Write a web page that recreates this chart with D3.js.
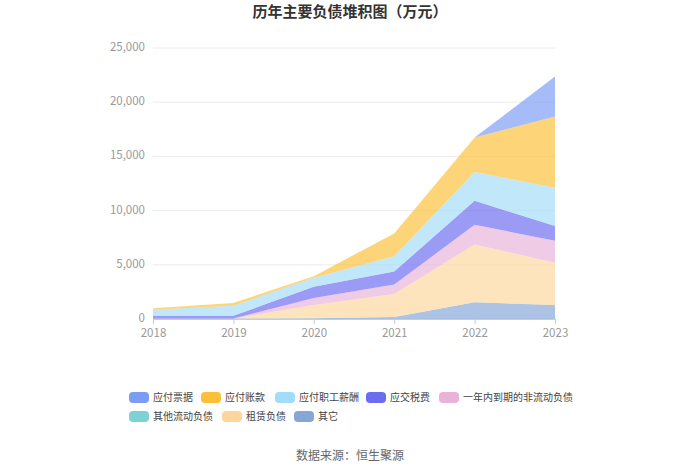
<!DOCTYPE html>
<html><head><meta charset="utf-8">
<script src="https://cdn.jsdelivr.net/npm/d3@7/dist/d3.min.js"></script>
<style>body{margin:0;background:#fff;font-family:"Noto Sans CJK SC","Noto Sans",sans-serif;}</style>
</head><body><svg id="c" width="700" height="473"></svg>
<script>
const years = ["2018","2019","2020","2021","2022","2023"];
const seriesNames = ["应付票据","应付账款","应付职工薪酬","应交税费","一年内到期的非流动负债","其他流动负债","租赁负债","其它"];
const colors = ["#7b9cf5","#fdbf3a","#a3dcf8","#6b6cf0","#e9b3d9","#7dd3d4","#fcd79d","#84a7d8"];
const v应付票据 = [0,0,0,0,0,3700];
const v应付账款 = [150,250,160,2096,3175,6566];
const v应付职工薪酬 = [550,925,830,1418,2651,3545];
const v应交税费 = [250,250,1020,1202,2219,1356];
const v一年内 = [0,0,650,863,1819,2034];
const v其他流动 = [0,0,0,0,0,0];
const v租赁 = [0,0,1235,2127,5333,3884];
const v其它 = [50,50,60,185,1541,1295];
const yTicks = [0,5000,10000,15000,20000,25000];
const seriesValues = [v应付票据,v应付账款,v应付职工薪酬,v应交税费,v一年内,v其他流动,v租赁,v其它];

const svg = d3.select("#c");
const x = d3.scalePoint().domain(years).range([153,555]);
const y = d3.scaleLinear().domain([0,25000]).range([319,48]);

// gridlines
svg.append("g").selectAll("line").data(yTicks).join("line")
  .attr("x1",153).attr("x2",555).attr("y1",d=>y(d)).attr("y2",d=>y(d))
  .attr("stroke","#ececec").attr("stroke-width",1);

// stack: bottom = last series
const table = years.map((yr,i)=>{const o={year:yr}; seriesNames.forEach((n,k)=>o[n]=seriesValues[k][i]); return o;});
const order = seriesNames.slice().reverse();
const stacked = d3.stack().keys(order)(table);
const area = d3.area().x(d=>x(d.data.year)).y0(d=>y(d[0])).y1(d=>y(d[1]));
svg.append("g").selectAll("path").data(stacked).join("path")
  .attr("d",area)
  .attr("fill",d=>colors[seriesNames.indexOf(d.key)])
  .attr("fill-opacity",0.68);

// y axis labels
svg.append("g").selectAll("text").data(yTicks).join("text")
  .attr("x",145).attr("y",d=>y(d)+3).attr("text-anchor","end")
  .attr("fill","#999").attr("font-size",11.5).text(d=>d3.format(",")(d));

// x axis
const xa = svg.append("g").attr("transform","translate(0,319)")
  .call(d3.axisBottom(x).tickSize(5).tickPadding(5));
xa.select(".domain").attr("stroke","#ccc");
xa.selectAll(".tick line").attr("stroke","#ccc");
xa.selectAll(".tick text").attr("fill","#999").attr("font-size",11.5)
  .attr("font-family","\"Noto Sans CJK SC\",sans-serif");

// title
svg.append("text").attr("x",350).attr("y",17).attr("text-anchor","middle")
  .attr("font-size",15).attr("font-weight","bold").attr("fill","#333").text("历年主要负债堆积图（万元）");

// legend
const legPos = [[129,397],[201,397],[275,397],[366,397],[439,397],[129,416],[222,416],[294,416]];
const lg = svg.append("g").selectAll("g").data(seriesNames).join("g")
  .attr("transform",(d,i)=>`translate(${legPos[i][0]},${legPos[i][1]})`);
lg.append("rect").attr("x",0).attr("y",-5).attr("width",20).attr("height",11).attr("rx",4)
  .attr("fill",(d,i)=>colors[i]);
lg.append("text").attr("x",24).attr("y",4).attr("font-size",10).attr("fill","#444").text(d=>d);

// source
svg.append("text").attr("x",350).attr("y",460).attr("text-anchor","middle")
  .attr("font-size",12).attr("fill","#666").text("数据来源：恒生聚源");
</script></body></html>
